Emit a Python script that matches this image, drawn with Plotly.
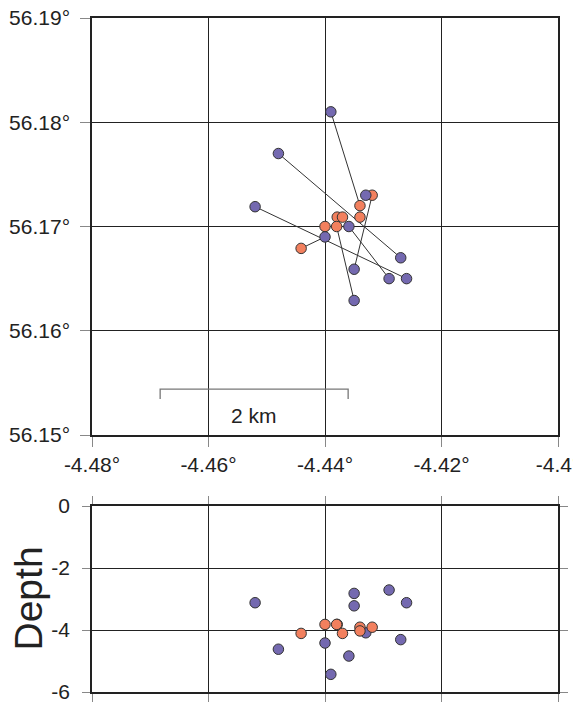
import plotly.graph_objects as go

# ---------------- data ----------------
# catalogue (purple) events: lon, lat, depth
p_lon = [-4.4390, -4.4480, -4.4520, -4.4330, -4.4359, -4.4400, -4.4270, -4.4350, -4.4290, -4.4260, -4.4350]
p_lat = [56.1810, 56.1770, 56.1719, 56.1730, 56.1700, 56.1690, 56.1670, 56.1659, 56.1650, 56.1650, 56.1629]
p_dep = [-5.43, -4.62, -3.12, -4.09, -4.84, -4.42, -4.31, -2.82, -2.71, -3.12, -3.22]

# relocated (orange) events: lon, lat, depth
o_lon = [-4.4319, -4.4340, -4.4340, -4.4379, -4.4370, -4.4400, -4.4380, -4.4441]
o_lat = [56.1730, 56.1720, 56.1709, 56.1709, 56.1709, 56.1700, 56.1700, 56.1679]
o_dep = [-3.91, -3.91, -4.03, -3.82, -4.11, -3.82, -3.82, -4.11]

# connecting lines: (set, index) -> (set, index)
links = [("p", 0, "o", 1), ("p", 1, "p", 6), ("p", 2, "p", 9), ("o", 0, "p", 7),
         ("p", 4, "p", 8), ("p", 5, "o", 7), ("o", 6, "p", 10)]

lon_ticks = [-4.48, -4.46, -4.44, -4.42, -4.40]
lon_labels = ["-4.48°", "-4.46°", "-4.44°", "-4.42°", "-4.4°"]
lat_ticks = [56.15, 56.16, 56.17, 56.18, 56.19]
lat_labels = ["56.15°", "56.16°", "56.17°", "56.18°", "56.19°"]
dep_ticks = [0, -2, -4, -6]
dep_labels = ["0", "-2", "-4", "-6"]

scale_km = 2
scale_lon0 = -4.4683
scale_lat = 56.1544
scale_tick_lat = 56.15345
scale_text_lat = 56.1519
km_per_deg_lon = 111.32 * 0.5567

PURPLE = "#7469b0"
ORANGE = "#f2805e"
FONT = "Liberation Sans, Arial, Helvetica, sans-serif"

fig = go.Figure()

pts = {"p": (p_lon, p_lat), "o": (o_lon, o_lat)}
lx, ly = [], []
for a, i, b, j in links:
    lx += [pts[a][0][i], pts[b][0][j], None]
    ly += [pts[a][1][i], pts[b][1][j], None]
fig.add_trace(go.Scatter(x=lx, y=ly, mode="lines", line=dict(color="#333333", width=1),
                         xaxis="x", yaxis="y", hoverinfo="skip"))

# scale bar
s_end = scale_lon0 + scale_km / km_per_deg_lon
fig.add_trace(go.Scatter(x=[scale_lon0, scale_lon0, s_end, s_end],
                         y=[scale_tick_lat, scale_lat, scale_lat, scale_tick_lat],
                         mode="lines", line=dict(color="#777777", width=1.3),
                         xaxis="x", yaxis="y", hoverinfo="skip"))

mk = lambda c: dict(color=c, size=10.5, line=dict(color="#333333", width=1))

fig.add_trace(go.Scatter(x=o_lon, y=o_lat, mode="markers", marker=mk(ORANGE), xaxis="x", yaxis="y"))
fig.add_trace(go.Scatter(x=p_lon, y=p_lat, mode="markers", marker=mk(PURPLE), xaxis="x", yaxis="y"))

fig.add_trace(go.Scatter(x=p_lon, y=p_dep, mode="markers", marker=mk(PURPLE), xaxis="x2", yaxis="y2"))
fig.add_trace(go.Scatter(x=o_lon, y=o_dep, mode="markers", marker=mk(ORANGE), xaxis="x2", yaxis="y2"))

fig.add_annotation(x=(scale_lon0 + s_end) / 2, y=scale_text_lat, xref="x", yref="y",
                   text="2 km", showarrow=False, font=dict(size=21, color="#222222", family=FONT))

# page body has an 8px default margin, so figure coords = page coords - 8
W, H = 581, 704
OFF = 8
L, R, T, B = 92 - OFF, W - (558 - OFF), 18 - OFF, H - (692 - OFF)
ph = H - T - B
pw = W - L - R
fig.add_annotation(x=(27.5 - 92) / pw, y=(692 - 599) / ph, xref="paper", yref="paper",
                   xanchor="center", yanchor="middle",
                   text="Depth", textangle=-90, showarrow=False,
                   font=dict(size=39, color="#222222", family=FONT))

axis_common = dict(showline=True, linecolor="#222222", linewidth=1.5,
                   showgrid=True, gridcolor="#222222", gridwidth=1,
                   ticks="outside", ticklen=10, tickwidth=1.3, tickcolor="#888888",
                   zeroline=False, automargin=False, ticklabeloverflow="allow",
                   tickfont=dict(size=21, color="#222222", family=FONT))

fig.update_layout(
    width=W, height=H, margin=dict(l=L, r=R, t=T, b=B, autoexpand=False),
    paper_bgcolor="white", plot_bgcolor="white", showlegend=False,
    xaxis=dict(axis_common, range=[-4.48, -4.40], tickvals=lon_ticks, ticktext=lon_labels,
               domain=[0, 1], anchor="y", mirror=True),
    yaxis=dict(axis_common, range=[56.15, 56.19], tickvals=lat_ticks, ticktext=lat_labels,
               domain=[(692 - 435) / ph, 1], anchor="x", mirror=True, ticklabelstandoff=6),
    xaxis2=dict(axis_common, range=[-4.48, -4.40], tickvals=lon_ticks, showticklabels=False,
                ticklen=8, domain=[0, 1], anchor="y2", mirror="ticks"),
    yaxis2=dict(axis_common, range=[-6, 0], tickvals=dep_ticks, ticktext=dep_labels,
                ticklen=8, domain=[0, (692 - 506) / ph], anchor="x2", mirror="ticks",
                ticklabelstandoff=8),
)

fig.write_html("out.html")
